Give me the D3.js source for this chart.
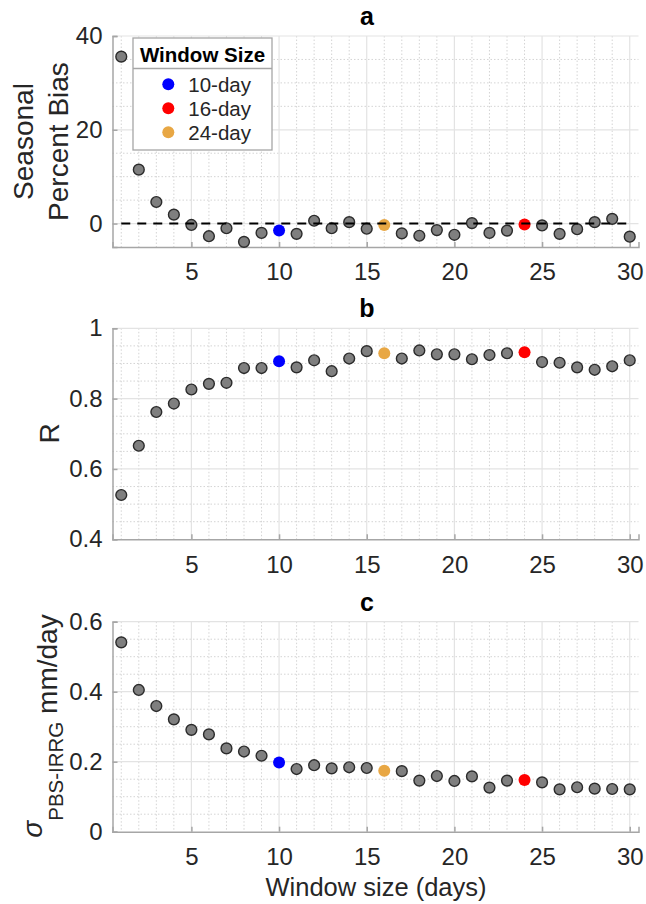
<!DOCTYPE html>
<html>
<head>
<meta charset="utf-8">
<script src="https://cdn.jsdelivr.net/npm/d3@7"></script>
<style>
  body { margin: 0; background: #fff; }
  text { font-family: "Liberation Sans", Arial, sans-serif; fill: #262626; }
</style>
</head>
<body>
<div id="chart"></div>
<script>
// ===========Data
var windowDays = [1, 2, 3, 4, 5, 6, 7, 8, 9, 10, 11, 12, 13, 14, 15,
                  16, 17, 18, 19, 20, 21, 22, 23, 24, 25, 26, 27, 28, 29, 30];

var biasValues = [35.6, 11.5, 4.6, 1.9, -0.3, -2.7, -1.0, -3.9, -2.0, -1.5,
                  -2.2, 0.6, -1.0, 0.3, -1.1, -0.3, -2.1, -2.6, -1.4, -2.4,
                  0.1, -2.0, -1.5, -0.2, -0.4, -2.2, -1.2, 0.3, 1.0, -2.8];

var rValues = [0.526, 0.666, 0.762, 0.786, 0.826, 0.842, 0.845, 0.887, 0.887, 0.906,
               0.889, 0.909, 0.878, 0.914, 0.935, 0.929, 0.914, 0.937, 0.926, 0.926,
               0.912, 0.924, 0.929, 0.932, 0.904, 0.902, 0.889, 0.882, 0.892, 0.909];

var sigmaValues = [0.541, 0.405, 0.359, 0.321, 0.291, 0.278, 0.238, 0.229, 0.217, 0.198,
                   0.179, 0.190, 0.181, 0.184, 0.182, 0.174, 0.173, 0.146, 0.159, 0.145,
                   0.158, 0.126, 0.146, 0.148, 0.141, 0.121, 0.127, 0.123, 0.122, 0.121];

// highlighted points as they appear on the plot
var highlightDays = [10, 16, 24];
var highlightColors = ["#0000ff", "#e8a744", "#ff0000"];

// legend entries
var legendLabels = ["10-day", "16-day", "24-day"];
var legendColors = ["#0000ff", "#ff0000", "#e8a744"];

var xTicks = [5, 10, 15, 20, 25, 30];
var biasTicks = [0, 20, 40];
var rTicks = [0.4, 0.6, 0.8, 1];
var sigmaTicks = [0, 0.2, 0.4, 0.6];

// ===========SVG
var svgWidth = 646;
var svgHeight = 904;

var svg = d3.select("#chart").append("svg")
    .attr("width", svgWidth)
    .attr("height", svgHeight);

var xScale = d3.scaleLinear()
    .domain([0.5, 30.5])
    .range([112.5, 638.5]);

var fmt = d3.format("~g");

function drawPanel(opts) {
    var y = d3.scaleLinear().domain(opts.domain).range([opts.bottom, opts.top]);
    var g = svg.append("g");

    // minor grid (dotted)
    var minorX = windowDays.filter(d => d % 5 !== 0);
    g.selectAll(".minor-x").data(minorX).enter().append("line")
        .attr("x1", d => xScale(d)).attr("x2", d => xScale(d))
        .attr("y1", opts.top).attr("y2", opts.bottom)
        .attr("stroke", "#d4d4d4").attr("stroke-width", 1)
        .attr("stroke-dasharray", "1.5,2");

    var minorY = d3.range(opts.domain[0], opts.domain[1] + opts.minorStep / 2, opts.minorStep)
        .map(d => +d.toFixed(3))
        .filter(d => opts.ticks.indexOf(d) < 0 && d > opts.domain[0]);
    g.selectAll(".minor-y").data(minorY).enter().append("line")
        .attr("x1", xScale.range()[0]).attr("x2", xScale.range()[1])
        .attr("y1", d => y(d)).attr("y2", d => y(d))
        .attr("stroke", "#d4d4d4").attr("stroke-width", 1)
        .attr("stroke-dasharray", "1.5,2");

    // major grid (solid)
    g.selectAll(".major-x").data(xTicks).enter().append("line")
        .attr("x1", d => xScale(d)).attr("x2", d => xScale(d))
        .attr("y1", opts.top).attr("y2", opts.bottom)
        .attr("stroke", "#e3e3e3").attr("stroke-width", 1.2);

    g.selectAll(".major-y").data(opts.ticks.filter(d => d > opts.domain[0])).enter().append("line")
        .attr("x1", xScale.range()[0]).attr("x2", xScale.range()[1])
        .attr("y1", d => y(d)).attr("y2", d => y(d))
        .attr("stroke", "#e3e3e3").attr("stroke-width", 1.2);

    // axes (ticks pointing inward)
    var bottomAxis = d3.axisBottom(xScale).tickValues(xTicks).tickSize(-5).tickPadding(16).tickFormat(fmt);
    var leftAxis = d3.axisLeft(y).tickValues(opts.ticks).tickSize(-5).tickPadding(10).tickFormat(fmt);

    var xAxis = g.append("g")
        .attr("transform", `translate(0, ${opts.bottom})`)
        .call(bottomAxis);
    var yAxis = g.append("g")
        .attr("transform", `translate(${xScale.range()[0]}, 0)`)
        .call(leftAxis);

    [xAxis, yAxis].forEach(function(ax) {
        ax.select(".domain").attr("stroke", "#a6a6a6").attr("stroke-width", 1.5);
        ax.selectAll(".tick line").attr("stroke", "#a6a6a6").attr("stroke-width", 1.5);
        ax.selectAll(".tick text")
            .attr("font-size", "24px")
            .attr("font-family", "Liberation Sans, Arial, sans-serif")
            .attr("fill", "#262626");
    });
    xAxis.selectAll(".tick text").attr("dy", "0.72em");

    // points
    var pts = windowDays.map((d, i) => ({ x: d, v: opts.values[i] }));
    g.selectAll(".pt").data(pts.filter(p => highlightDays.indexOf(p.x) < 0)).enter().append("circle")
        .attr("cx", d => xScale(d.x))
        .attr("cy", d => y(d.v))
        .attr("r", 5.4)
        .attr("fill", "#7f7f7f")
        .attr("stroke", "#2b2b2b")
        .attr("stroke-width", 1.4);

    g.selectAll(".hl").data(pts.filter(p => highlightDays.indexOf(p.x) >= 0)).enter().append("circle")
        .attr("cx", d => xScale(d.x))
        .attr("cy", d => y(d.v))
        .attr("r", 6)
        .attr("fill", d => highlightColors[highlightDays.indexOf(d.x)]);

    // panel title
    svg.append("text")
        .attr("x", 367)
        .attr("y", opts.top - 11)
        .attr("text-anchor", "middle")
        .attr("font-size", "25px")
        .attr("font-weight", "bold")
        .style("fill", "#000")
        .text(opts.title);

    return { g: g, y: y };
}

// ===========Panel a
var panelA = drawPanel({
    title: "a", values: biasValues, domain: [-5, 40], ticks: biasTicks,
    minorStep: 5, top: 36, bottom: 247
});

// zero reference line (drawn on top of the points)
panelA.g.append("line")
    .attr("x1", xScale(1)).attr("x2", xScale(30))
    .attr("y1", panelA.y(0)).attr("y2", panelA.y(0))
    .attr("stroke", "#000").attr("stroke-width", 2)
    .attr("stroke-dasharray", "9,7");

var ylabelA = svg.append("text")
    .attr("transform", "translate(33, 141.5) rotate(-90)")
    .attr("text-anchor", "middle")
    .attr("font-size", "28px");
ylabelA.append("tspan").attr("x", 0).attr("dy", 0).text("Seasonal");
ylabelA.append("tspan").attr("x", 0).attr("dy", 35).text("Percent Bias");

// legend
var legend = svg.append("g");
legend.append("rect")
    .attr("x", 133).attr("y", 38)
    .attr("width", 139).attr("height", 112)
    .attr("fill", "#fff").attr("stroke", "#a6a6a6").attr("stroke-width", 1.3);
legend.append("line")
    .attr("x1", 133).attr("x2", 272).attr("y1", 68.5).attr("y2", 68.5)
    .attr("stroke", "#a6a6a6").attr("stroke-width", 1.3);
legend.append("text")
    .attr("x", 202.5).attr("y", 61.5)
    .attr("text-anchor", "middle")
    .attr("font-size", "20.5px")
    .attr("font-weight", "bold")
    .style("fill", "#000")
    .text("Window Size");
legendLabels.forEach(function(lbl, i) {
    var cy = 84.3 + i * 24;
    legend.append("circle").attr("cx", 168.3).attr("cy", cy).attr("r", 6)
        .attr("fill", legendColors[i]);
    legend.append("text").attr("x", 188.3).attr("y", cy + 7.5)
        .attr("font-size", "20.5px").text(lbl);
});

// ===========Panel b
drawPanel({
    title: "b", values: rValues, domain: [0.4, 1], ticks: rTicks,
    minorStep: 0.05, top: 328.3, bottom: 539.3
});

svg.append("text")
    .attr("transform", "translate(59, 433.5) rotate(-90)")
    .attr("text-anchor", "middle")
    .attr("font-size", "28px")
    .text("R");

// ===========Panel c
drawPanel({
    title: "c", values: sigmaValues, domain: [0, 0.6], ticks: sigmaTicks,
    minorStep: 0.05, top: 621.7, bottom: 831.7
});

var ylabelC = svg.append("text")
    .attr("transform", "translate(57, 726) rotate(-90)")
    .attr("text-anchor", "middle")
    .attr("font-size", "28px");
ylabelC.append("tspan").attr("dy", -15).attr("font-style", "italic").text("σ");
ylabelC.append("tspan").attr("dy", 21).attr("font-size", "20.5px").text("PBS-IRRG");
ylabelC.append("tspan").attr("dy", -6).text(" mm/day");

svg.append("text")
    .attr("x", 376).attr("y", 896)
    .attr("text-anchor", "middle")
    .attr("font-size", "25.5px")
    .text("Window size (days)");
</script>
</body>
</html>
